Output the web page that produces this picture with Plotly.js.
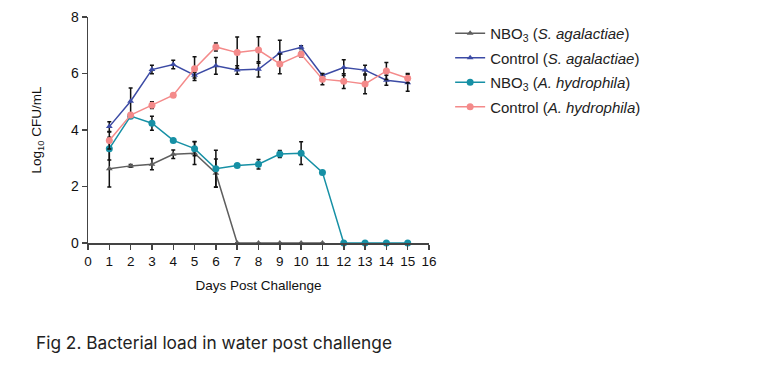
<!DOCTYPE html>
<html>
<head>
<meta charset="utf-8">
<script src="https://cdn.plot.ly/plotly-3.0.1.min.js"></script>
<style>html,body{margin:0;padding:0;background:#fff;}#chart{width:772px;height:368px;}</style>
</head>
<body>
<div id="chart"></div>
<script>
const days = [1,2,3,4,5,6,7,8,9,10,11,12,13,14,15];

const nboSagaDays = [1,2,3,4,5,6,7,8,9,10,11];
const nboSaga    = [2.63,2.73,2.79,3.14,3.18,2.47,0,0,0,0,0];
const nboSagaErr = [0.65,0.05,0.2,0.15,0.4,0.5,0,0,0,0,0];

const ctrlSaga    = [4.12,5.02,6.14,6.32,5.94,6.27,6.12,6.15,6.73,6.93,5.93,6.21,6.12,5.76,5.67];
const ctrlSagaErr = [0.17,0.47,0.15,0.15,0.1,0.3,0.15,0.27,0.45,0.05,0.05,0.28,0.17,0.18,0.3];

const nboAhyd    = [3.34,4.49,4.24,3.63,3.34,2.63,2.74,2.79,3.15,3.18,2.5,0,0,0,0];
const nboAhydErr = [0.4,0.05,0.25,0.05,0.25,0.65,0.05,0.17,0.12,0.4,0.06,0,0,0,0];

const ctrlAhyd    = [3.63,4.53,4.88,5.23,6.17,6.94,6.74,6.83,6.34,6.68,5.80,5.73,5.63,6.09,5.83];
const ctrlAhydErr = [0.3,0.05,0.12,0.05,0.42,0.14,0.55,0.47,0.35,0.1,0.2,0.26,0.35,0.3,0.17];

const names = [
  'NBO<sub>3</sub> (<i>S. agalactiae</i>)',
  'Control (<i>S. agalactiae</i>)',
  'NBO<sub>3</sub> (<i>A. hydrophila</i>)',
  'Control (<i>A. hydrophila</i>)'
];
const xTicks = [0,1,2,3,4,5,6,7,8,9,10,11,12,13,14,15,16];
const yTicks = [0,2,4,6,8];

function err(a){ return {type:'data', array:a, visible:true, color:'#111', thickness:1.5, width:2}; }

const traces = [
  {x:nboSagaDays, y:nboSaga, error_y:err(nboSagaErr), name:names[0], legendgroup:'a', mode:'lines+markers',
   line:{color:'#5e5e5e', width:1.5}, marker:{symbol:'triangle-up', size:6, color:'#5e5e5e'}, cliponaxis:false},
  {x:days, y:ctrlSaga, error_y:err(ctrlSagaErr), name:names[1], legendgroup:'b', mode:'lines+markers',
   line:{color:'#3c4ba5', width:1.5}, marker:{symbol:'triangle-up', size:6, color:'#3c4ba5'}, cliponaxis:false},
  {x:days, y:nboAhyd, error_y:err(nboAhydErr), name:names[2], legendgroup:'c', mode:'lines+markers',
   line:{color:'#1690a5', width:1.5}, marker:{symbol:'circle', size:7, color:'#1690a5'}, cliponaxis:false},
  {x:days, y:ctrlAhyd, error_y:err(ctrlAhydErr), name:names[3], legendgroup:'d', mode:'lines+markers',
   line:{color:'#f48a8a', width:1.5}, marker:{symbol:'circle', size:7, color:'#f48a8a'}, cliponaxis:false}
];

const layout = {
  width:772, height:368,
  margin:{l:88, r:343, t:17, b:125},
  paper_bgcolor:'#fff', plot_bgcolor:'#fff',
  font:{family:'Liberation Sans, Arial, sans-serif', color:'#111'},
  showlegend:true,
  legend:{x:1.062, y:1.0, xanchor:'left', yanchor:'top', font:{size:15, color:'#222'},
          tracegroupgap:2, itemwidth:30, bgcolor:'rgba(0,0,0,0)'},
  xaxis:{range:[0,16], tickvals:xTicks, ticktext:xTicks.map(String), showgrid:false, zeroline:false,
         showline:true, linecolor:'#444', linewidth:1.5, ticks:'outside', ticklen:5, tickwidth:1.5, tickcolor:'#444',
         tickfont:{size:13.5}, title:{text:'Days Post Challenge', font:{size:13.5}, standoff:13}},
  yaxis:{range:[0,8], tickvals:yTicks, ticktext:yTicks.map(String), showgrid:false, zeroline:false,
         showline:true, linecolor:'#444', linewidth:1.5, ticks:'outside', ticklen:5, tickwidth:1.5, tickcolor:'#444',
         tickfont:{size:14}, title:{text:'Log<sub>10</sub> CFU/mL', font:{size:13.5}, standoff:26}},
  annotations:[{xref:'paper', yref:'paper', x:-0.158, y:-0.44, xanchor:'left', yanchor:'middle',
    text:'Fig 2. Bacterial load in water post challenge', showarrow:false,
    font:{family:'Inter, Lato, sans-serif', size:17.3, color:'#222'}}]
};

Plotly.newPlot('chart', traces, layout, {displayModeBar:false, staticPlot:true});
</script>
</body>
</html>
